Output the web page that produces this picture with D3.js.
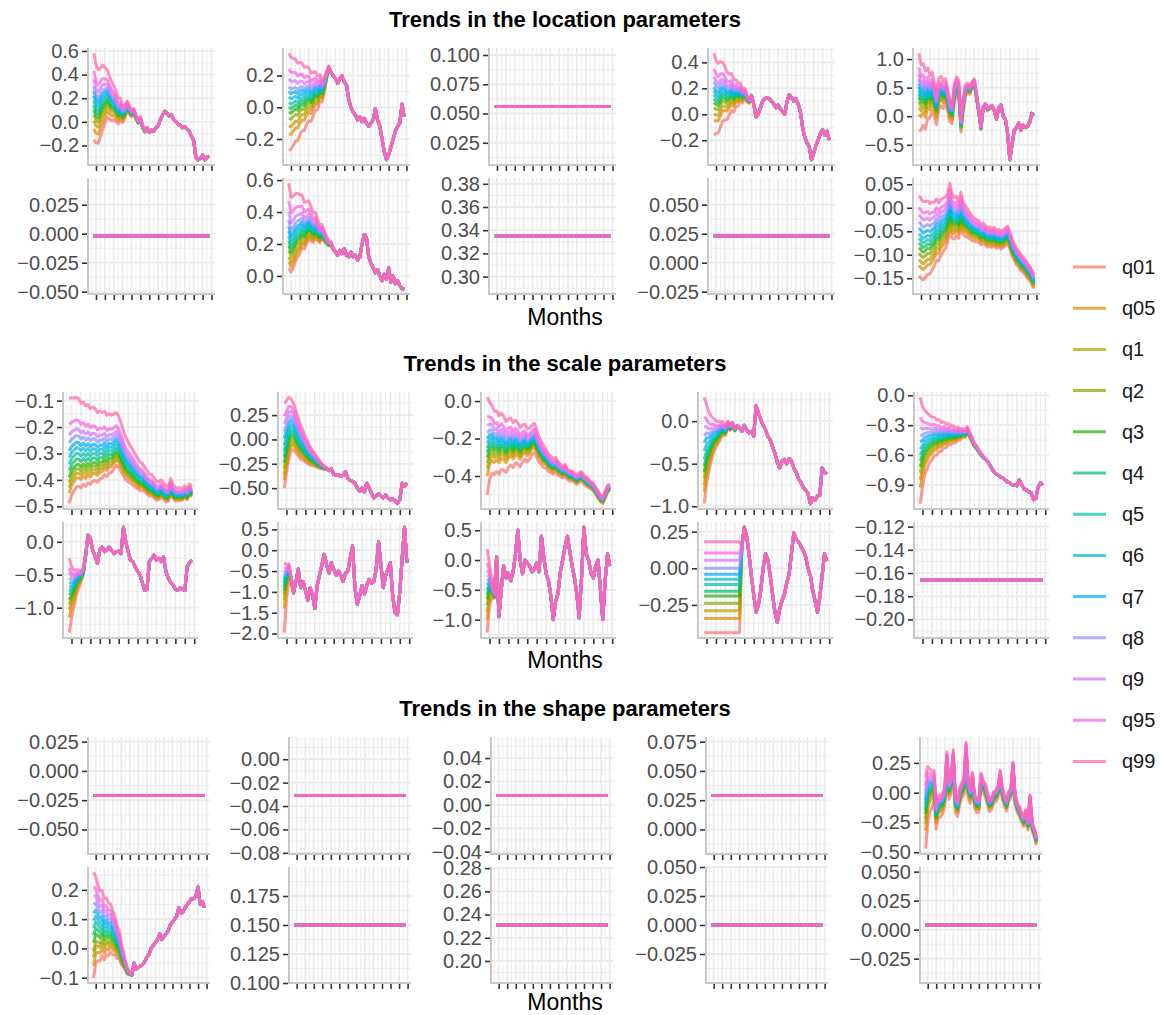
<!DOCTYPE html>
<html>
<head>
<meta charset="utf-8">
<script src="https://cdn.jsdelivr.net/npm/d3@7"></script>
<style>
  body { margin: 0; background: #ffffff; }
  svg text { font-family: "Liberation Sans", Arial, Helvetica, sans-serif; }
</style>
</head>
<body>
<svg id="chart" width="1161" height="1015"></svg>
<script>
// ---------------------------------------------------------------------------
// Quantile levels and their colours
// ---------------------------------------------------------------------------
const quantiles = ["q01", "q05", "q1", "q2", "q3", "q4", "q5", "q6", "q7", "q8", "q9", "q95", "q99"];
const quantileColors = ["#F8766D", "#E18A00", "#BE9C00", "#8CAB00", "#24B700", "#00BE70", "#00C1AB",
                        "#00BBDA", "#00ACFC", "#8B93FF", "#D575FE", "#F962DD", "#FF65AC"];

const sectionTitles = ["Trends in the location parameters", "Trends in the scale parameters", "Trends in the shape parameters"];
const axisTitle = "Months";

const monthStep = 3;        // months between stored observations
const lastMonth = 156;      // last observed month
const monthTicks = [3, 15, 27, 39, 51, 63, 75, 87, 99, 111, 123, 135, 147, 159];

// Each moving panel: common trajectory (path), per-quantile offsets at the
// widest spread (fan, ordered q01..q99) and the spread weight per observation
// (spread; observations past its end have coinciding quantile curves).
// Flat panels: a single level shared by all quantiles.

// ---------------------------- location -------------------------------------
const locA_path = [0.18, 0.12, 0.10, 0.14, 0.18, 0.20, 0.22, 0.19, 0.16, 0.15,
  0.12, 0.08, 0.10, 0.06, 0.08, 0.13, 0.10, 0.07, 0.09, 0.04,
  0.00, 0.03, -0.04, -0.08, -0.05, -0.09, -0.07, -0.08, -0.05, -0.03,
  0.02, 0.06, 0.09, 0.07, 0.05, 0.06, 0.02, 0.00, -0.02, -0.03,
  -0.05, -0.04, -0.06, -0.08, -0.12, -0.16, -0.30, -0.32, -0.31, -0.28,
  -0.32, -0.30, -0.29];
const locA_fan = [-0.33, -0.24, -0.17, -0.12, -0.08, -0.04, 0, 0.04, 0.08, 0.12, 0.18, 0.25, 0.40];
const locA_spread = [1, 0.9, 0.85, 0.8, 0.75, 0.65, 0.55, 0.5, 0.45, 0.4, 0.35, 0.3, 0.25, 0.2, 0.15, 0.12, 0.1, 0.08, 0.06, 0.05, 0.04, 0.03, 0.03, 0.02];
const locA_ticks = [-0.2, 0, 0.2, 0.4, 0.6];

const locB_path = [0.03, 0.02, 0.03, 0.04, 0.03, 0.05, 0.06, 0.05, 0.07, 0.08,
  0.06, 0.08, 0.10, 0.09, 0.12, 0.10, 0.14, 0.20, 0.25, 0.22,
  0.20, 0.18, 0.15, 0.18, 0.20, 0.16, 0.14, 0.05, 0.00, -0.03,
  -0.05, -0.08, -0.06, -0.09, -0.07, -0.10, -0.12, -0.10, -0.08, -0.01,
  -0.08, -0.12, -0.20, -0.28, -0.33, -0.30, -0.25, -0.20, -0.15, -0.12,
  -0.10, 0.02, -0.06];
const locB_fan = [-0.30, -0.20, -0.15, -0.10, -0.06, -0.03, 0, 0.035, 0.07, 0.10, 0.15, 0.21, 0.31];
const locB_spread = [1, 0.95, 0.9, 0.85, 0.8, 0.75, 0.7, 0.65, 0.6, 0.55, 0.5, 0.45, 0.4, 0.35, 0.28, 0.22, 0.15, 0.08, 0.03];
const locB_ticks = [-0.2, 0, 0.2];

const locC_level = 0.056;
const locC_ticks = [0.025, 0.05, 0.075, 0.1];

const locD_path = [0.15, 0.13, 0.12, 0.15, 0.17, 0.16, 0.14, 0.15, 0.17, 0.14,
  0.16, 0.15, 0.17, 0.14, 0.16, 0.12, 0.10, 0.14, 0.08, -0.02,
  0.00, 0.05, 0.10, 0.12, 0.13, 0.12, 0.10, 0.08, 0.05, 0.07,
  0.04, 0.02, 0.00, 0.10, 0.15, 0.13, 0.10, 0.12, 0.08, 0.02,
  -0.10, -0.18, -0.22, -0.25, -0.35, -0.30, -0.24, -0.20, -0.15, -0.12,
  -0.16, -0.13, -0.20];
const locD_fan = [-0.31, -0.20, -0.15, -0.10, -0.06, -0.03, 0, 0.03, 0.06, 0.10, 0.14, 0.20, 0.32];
const locD_spread = [1, 0.9, 0.85, 0.8, 0.72, 0.65, 0.58, 0.5, 0.45, 0.4, 0.33, 0.28, 0.22, 0.17, 0.12, 0.08, 0.05, 0.03];
const locD_ticks = [-0.2, 0, 0.2, 0.4];

const locE_path = [0.45, 0.35, 0.40, 0.30, 0.42, 0.35, 0.45, 0.30, 0.15, 0.40,
  0.45, 0.38, 0.45, 0.30, 0.10, 0.05, 0.40, 0.55, 0.50, -0.15,
  0.20, 0.45, 0.50, 0.45, 0.55, 0.60, 0.35, 0.10, -0.20, 0.15,
  0.20, 0.12, 0.15, 0.18, 0.10, -0.05, 0.15, 0.20, 0.00, -0.05,
  -0.30, -0.76, -0.50, -0.25, -0.20, -0.12, -0.25, -0.15, -0.20, -0.18,
  -0.10, 0.05, 0.02];
const locE_fan = [-0.70, -0.42, -0.30, -0.20, -0.12, -0.06, 0, 0.06, 0.12, 0.20, 0.28, 0.40, 0.65];
const locE_spread = [1, 0.85, 0.8, 0.75, 0.65, 0.55, 0.5, 0.45, 0.42, 0.4, 0.38, 0.35, 0.32, 0.3, 0.28, 0.26, 0.24, 0.22,
  0.2, 0.18, 0.16, 0.14, 0.12, 0.1, 0.09, 0.08, 0.07, 0.06, 0.05, 0.04, 0.04, 0.03, 0.03, 0.02, 0.02];
const locE_ticks = [-0.5, 0, 0.5, 1.0];

const locF_level = -0.002;
const locF_ticks = [-0.05, -0.025, 0, 0.025];

const locG_path = [0.25, 0.20, 0.22, 0.25, 0.27, 0.28, 0.30, 0.28, 0.30, 0.32,
  0.30, 0.28, 0.30, 0.27, 0.25, 0.27, 0.24, 0.22, 0.20, 0.20,
  0.17, 0.15, 0.13, 0.16, 0.14, 0.17, 0.13, 0.12, 0.15, 0.12,
  0.13, 0.10, 0.12, 0.20, 0.26, 0.24, 0.12, 0.08, 0.05, 0.02,
  0.04, 0.00, -0.03, 0.01, -0.02, 0.05, -0.04, 0.00, -0.05, -0.03,
  -0.06, -0.08, -0.08];
const locG_fan = [-0.20, -0.16, -0.13, -0.09, -0.06, -0.03, 0, 0.03, 0.06, 0.10, 0.15, 0.22, 0.33];
const locG_spread = [1, 0.88, 0.85, 0.8, 0.75, 0.7, 0.62, 0.55, 0.5, 0.45, 0.4, 0.35, 0.3, 0.25, 0.2, 0.16, 0.12, 0.09, 0.06, 0.04, 0.02];
const locG_ticks = [0, 0.2, 0.4, 0.6];

const locH_level = 0.335;
const locH_ticks = [0.30, 0.32, 0.34, 0.36, 0.38];

const locI_level = 0.023;
const locI_ticks = [-0.025, 0, 0.025, 0.05];

const locJ_path = [-0.065, -0.070, -0.075, -0.072, -0.068, -0.070, -0.065, -0.060, -0.050, -0.055,
  -0.045, -0.040, -0.035, -0.025, 0.000, -0.020, -0.025, -0.020, -0.028, -0.005,
  -0.025, -0.030, -0.035, -0.040, -0.045, -0.048, -0.050, -0.052, -0.058, -0.055,
  -0.060, -0.065, -0.062, -0.066, -0.062, -0.068, -0.065, -0.070, -0.067, -0.063,
  -0.058, -0.070, -0.085, -0.095, -0.105, -0.110, -0.118, -0.122, -0.128, -0.135,
  -0.140, -0.150, -0.158];
const locJ_fan = [-0.080, -0.058, -0.045, -0.032, -0.020, -0.010, 0, 0.010, 0.022, 0.035, 0.050, 0.065, 0.090];
const locJ_spread = [1, 1, 0.98, 0.95, 0.92, 0.88, 0.85, 0.80, 0.77, 0.73,
  0.70, 0.67, 0.64, 0.61, 0.58, 0.55, 0.52, 0.49, 0.46, 0.43,
  0.40, 0.38, 0.35, 0.33, 0.31, 0.29, 0.28, 0.27, 0.26, 0.25,
  0.25, 0.24, 0.24, 0.23, 0.23, 0.23, 0.22, 0.22, 0.22, 0.22,
  0.21, 0.21, 0.21, 0.20, 0.20, 0.20, 0.20, 0.19, 0.19, 0.19,
  0.18, 0.18, 0.18];
const locJ_ticks = [-0.15, -0.10, -0.05, 0, 0.05];

// ------------------------------ scale --------------------------------------
const sclA_path = [-0.34, -0.32, -0.31, -0.30, -0.30, -0.31, -0.30, -0.31, -0.30, -0.31,
  -0.30, -0.30, -0.31, -0.30, -0.30, -0.29, -0.30, -0.29, -0.29, -0.28,
  -0.27, -0.28, -0.30, -0.32, -0.34, -0.35, -0.36, -0.37, -0.38, -0.39,
  -0.40, -0.40, -0.41, -0.42, -0.43, -0.43, -0.44, -0.45, -0.45, -0.44,
  -0.45, -0.46, -0.46, -0.43, -0.45, -0.46, -0.46, -0.46, -0.46, -0.45,
  -0.46, -0.44, -0.45];
const sclA_fan = [-0.15, -0.11, -0.09, -0.07, -0.05, -0.025, 0, 0.025, 0.05, 0.08, 0.11, 0.15, 0.25];
const sclA_spread = [1, 0.92, 0.88, 0.85, 0.83, 0.80, 0.78, 0.76, 0.74, 0.72,
  0.70, 0.68, 0.66, 0.64, 0.62, 0.60, 0.58, 0.56, 0.54, 0.52,
  0.50, 0.48, 0.46, 0.43, 0.40, 0.38, 0.35, 0.33, 0.31, 0.29,
  0.27, 0.25, 0.23, 0.22, 0.21, 0.20, 0.19, 0.18, 0.17, 0.16,
  0.15, 0.15, 0.14, 0.14, 0.13, 0.13, 0.12, 0.12, 0.11, 0.11,
  0.10, 0.10, 0.10];
const sclA_ticks = [-0.5, -0.4, -0.3, -0.2, -0.1];

const sclB_path = [-0.12, -0.02, 0.08, 0.12, 0.10, 0.05, 0.00, -0.05, -0.08, -0.12,
  -0.15, -0.18, -0.20, -0.22, -0.24, -0.26, -0.28, -0.29, -0.30, -0.32,
  -0.30, -0.36, -0.37, -0.36, -0.38, -0.37, -0.33, -0.40, -0.42, -0.43,
  -0.45, -0.50, -0.53, -0.50, -0.54, -0.45, -0.50, -0.55, -0.60, -0.58,
  -0.56, -0.58, -0.60, -0.57, -0.60, -0.62, -0.61, -0.63, -0.66, -0.62,
  -0.45, -0.48, -0.45];
const sclB_fan = [-0.38, -0.30, -0.24, -0.18, -0.12, -0.06, 0, 0.06, 0.13, 0.20, 0.28, 0.36, 0.49];
const sclB_spread = [1, 0.85, 0.72, 0.6, 0.55, 0.5, 0.45, 0.4, 0.35, 0.3, 0.26, 0.22, 0.18, 0.15, 0.12, 0.09, 0.06, 0.04, 0.02];
const sclB_ticks = [-0.5, -0.25, 0, 0.25];

const sclC_path = [-0.25, -0.22, -0.21, -0.23, -0.22, -0.24, -0.22, -0.23, -0.25, -0.23,
  -0.22, -0.24, -0.22, -0.23, -0.25, -0.23, -0.22, -0.24, -0.23, -0.21,
  -0.20, -0.23, -0.26, -0.28, -0.30, -0.31, -0.33, -0.34, -0.35, -0.34,
  -0.36, -0.37, -0.38, -0.37, -0.39, -0.40, -0.40, -0.41, -0.42, -0.41,
  -0.40, -0.42, -0.43, -0.44, -0.45, -0.46, -0.48, -0.50, -0.52, -0.53,
  -0.50, -0.47, -0.46];
const sclC_fan = [-0.25, -0.15, -0.11, -0.08, -0.05, -0.025, 0, 0.025, 0.05, 0.08, 0.12, 0.17, 0.27];
const sclC_spread = [1, 0.8, 0.7, 0.65, 0.62, 0.6, 0.58, 0.55, 0.52, 0.5,
  0.48, 0.46, 0.44, 0.42, 0.4, 0.38, 0.36, 0.34, 0.32, 0.3,
  0.3, 0.28, 0.26, 0.24, 0.22, 0.2, 0.18, 0.17, 0.16, 0.15,
  0.14, 0.13, 0.12, 0.12, 0.11, 0.11, 0.1, 0.1, 0.1, 0.1,
  0.09, 0.09, 0.09, 0.09, 0.08, 0.08, 0.08, 0.08, 0.07, 0.07,
  0.07, 0.07, 0.07];
const sclC_ticks = [-0.4, -0.2, 0];

const sclD_path = [-0.45, -0.35, -0.30, -0.25, -0.20, -0.18, -0.15, -0.12, -0.10, -0.12,
  -0.05, -0.08, -0.04, -0.10, -0.06, -0.08, -0.12, -0.05, -0.10, -0.14,
  -0.12, -0.18, 0.18, 0.10, 0.02, -0.05, -0.10, -0.18, -0.22, -0.30,
  -0.38, -0.48, -0.55, -0.47, -0.45, -0.50, -0.44, -0.47, -0.55, -0.60,
  -0.68, -0.72, -0.78, -0.81, -0.85, -0.97, -0.90, -0.93, -0.88, -0.87,
  -0.55, -0.60, -0.62];
const sclD_fan = [-0.52, -0.38, -0.30, -0.22, -0.15, -0.08, 0, 0.10, 0.20, 0.28, 0.38, 0.50, 0.73];
const sclD_spread = [1, 0.75, 0.55, 0.42, 0.32, 0.25, 0.2, 0.16, 0.12, 0.09, 0.07, 0.05, 0.04, 0.03, 0.02, 0.01];
const sclD_ticks = [-1.0, -0.5, 0];

const sclE_path = [-0.60, -0.55, -0.50, -0.48, -0.46, -0.45, -0.43, -0.44, -0.42, -0.43,
  -0.41, -0.42, -0.40, -0.41, -0.40, -0.41, -0.39, -0.40, -0.38, -0.39,
  -0.35, -0.40, -0.45, -0.50, -0.53, -0.57, -0.60, -0.63, -0.65, -0.68,
  -0.72, -0.76, -0.79, -0.80, -0.82, -0.83, -0.85, -0.87, -0.88, -0.90,
  -0.90, -0.91, -0.85, -0.90, -0.94, -0.95, -0.97, -0.98, -1.05, -1.04,
  -0.92, -0.88, -0.90];
const sclE_fan = [-0.49, -0.33, -0.25, -0.18, -0.12, -0.06, 0, 0.06, 0.13, 0.20, 0.28, 0.38, 0.58];
const sclE_spread = [1, 0.75, 0.6, 0.52, 0.45, 0.4, 0.36, 0.33, 0.3, 0.27, 0.25, 0.22, 0.2, 0.18, 0.16, 0.14, 0.12, 0.1,
  0.08, 0.07, 0.06, 0.05, 0.04, 0.03, 0.03, 0.02, 0.02, 0.01];
const sclE_ticks = [-0.9, -0.6, -0.3, 0];

const sclF_path = [-0.75, -0.72, -0.68, -0.60, -0.55, -0.52, -0.45, -0.20, 0.10, 0.05,
  -0.13, -0.22, -0.33, -0.12, -0.08, -0.15, -0.12, -0.08, -0.13, -0.18,
  -0.15, -0.14, -0.18, 0.22, 0.00, -0.15, -0.28, -0.30, -0.38, -0.45,
  -0.50, -0.62, -0.74, -0.72, -0.30, -0.25, -0.20, -0.28, -0.25, -0.30,
  -0.23, -0.45, -0.55, -0.62, -0.65, -0.72, -0.74, -0.70, -0.72, -0.74,
  -0.38, -0.32, -0.28];
const sclF_fan = [-0.63, -0.40, -0.28, -0.20, -0.13, -0.06, 0, 0.06, 0.13, 0.20, 0.28, 0.35, 0.50];
const sclF_spread = [1, 0.7, 0.5, 0.35, 0.25, 0.15, 0.08, 0.03];
const sclF_ticks = [-1.0, -0.5, 0];

const sclG_path = [-0.80, -0.60, -0.45, -0.70, -1.00, -0.75, -0.45, -0.90, -0.75, -0.95,
  -1.20, -0.90, -1.05, -1.40, -0.85, -0.60, -0.35, -0.10, -0.35, -0.55,
  -0.30, -0.45, -0.60, -0.50, -0.60, -0.75, -0.55, -0.50, -0.20, 0.10,
  -0.90, -1.30, -1.10, -0.85, -1.05, -0.85, -0.70, -0.80, -0.75, -0.45,
  0.20, -0.35, -0.90, -0.60, -0.45, -0.30, -1.10, -1.50, -1.55, -1.00,
  -0.20, 0.55, -0.30];
const sclG_fan = [-1.18, -0.60, -0.40, -0.28, -0.17, -0.08, 0, 0.06, 0.12, 0.18, 0.25, 0.35, 0.50];
const sclG_spread = [1, 0.5, 0.25, 0.1, 0.04];
const sclG_ticks = [-2.0, -1.5, -1.0, -0.5, 0, 0.5];

const sclH_path = [-0.50, -0.40, -0.50, -0.60, 0.05, -0.95, -0.50, -0.10, -0.30, -0.22,
  -0.35, -0.20, 0.10, 0.50, 0.00, -0.23, 0.00, -0.05, -0.10, -0.20,
  -0.15, -0.05, -0.20, 0.40, 0.05, -0.23, -0.35, -0.60, -1.00, -0.70,
  -0.57, -0.20, 0.00, 0.22, 0.40, 0.15, -0.10, -0.30, -0.57, -0.97,
  -0.30, 0.55, 0.10, 0.00, -0.22, -0.30, -0.10, 0.00, -0.50, -1.00,
  -0.34, 0.10, -0.10];
const sclH_fan = [-0.72, -0.50, -0.38, -0.26, -0.16, -0.08, 0, 0.08, 0.16, 0.24, 0.33, 0.45, 0.68];
const sclH_spread = [1, 0.5, 0.2, 0.06];
const sclH_ticks = [-1.0, -0.5, 0, 0.5];

const sclI_path = [0, 0, 0, 0, 0, 0, 0, 0, 0, 0,
  0, 0, 0, 0, 0, 0, 0.15, 0.28, 0.22, 0.10,
  -0.05, -0.18, -0.30, -0.25, -0.15, 0.00, 0.10, 0.06, -0.05, -0.18,
  -0.30, -0.37, -0.28, -0.22, -0.18, -0.10, -0.04, 0.10, 0.24, 0.20,
  0.18, 0.15, 0.12, 0.08, 0.00, -0.05, -0.15, -0.22, -0.30, -0.20,
  -0.05, 0.10, 0.05];
const sclI_fan = [-0.44, -0.343, -0.29, -0.238, -0.19, -0.157, -0.11, -0.075, -0.04, 0.0, 0.054, 0.105, 0.182];
const sclI_spread = [1, 1, 1, 1, 1, 1, 1, 1, 1, 1, 1, 1, 1, 1, 1, 1];
const sclI_ticks = [-0.25, 0, 0.25];

const sclJ_level = -0.166;
const sclJ_ticks = [-0.20, -0.18, -0.16, -0.14, -0.12];

// ------------------------------ shape --------------------------------------
const shpA_level = -0.021;
const shpA_ticks = [-0.05, -0.025, 0, 0.025];

const shpB_level = -0.031;
const shpB_ticks = [-0.08, -0.06, -0.04, -0.02, 0];

const shpC_level = 0.008;
const shpC_ticks = [-0.04, -0.02, 0, 0.02, 0.04];

const shpD_level = 0.029;
const shpD_ticks = [0, 0.025, 0.05, 0.075];

const shpE_path = [-0.12, 0.02, 0.05, 0.05, 0.08, -0.18, -0.10, -0.10, -0.08, -0.02,
  0.28, 0.03, 0.08, 0.30, -0.08, -0.12, -0.02, 0.03, 0.06, 0.37,
  0.03, -0.02, 0.12, -0.06, -0.10, -0.10, 0.12, 0.06, 0.03, -0.04,
  -0.10, -0.08, -0.03, -0.02, 0.02, 0.15, 0.00, -0.06, -0.10, -0.02,
  0.00, 0.22, -0.05, -0.12, -0.15, -0.20, -0.24, -0.17, -0.27, -0.05,
  -0.28, -0.33, -0.40];
const shpE_fan = [-0.35, -0.20, -0.14, -0.10, -0.06, -0.03, 0, 0.03, 0.06, 0.09, 0.13, 0.18, 0.25];
const shpE_spread = [1, 0.80, 0.60, 0.50, 0.42, 0.36, 0.32, 0.30, 0.28, 0.26,
  0.25, 0.25, 0.24, 0.24, 0.23, 0.23, 0.22, 0.22, 0.22, 0.21,
  0.21, 0.20, 0.20, 0.20, 0.19, 0.19, 0.18, 0.18, 0.18, 0.17,
  0.17, 0.17, 0.16, 0.16, 0.16, 0.15, 0.15, 0.15, 0.15, 0.14,
  0.14, 0.14, 0.14, 0.13, 0.13, 0.13, 0.13, 0.12, 0.12, 0.12,
  0.12, 0.12, 0.12];
const shpE_ticks = [-0.5, -0.25, 0, 0.25];

const shpF_path = [0.07, 0.09, 0.08, 0.07, 0.08, 0.06, 0.07, 0.06, 0.065, 0.05,
  0.04, 0.02, 0.01, -0.02, -0.04, -0.06, -0.08, -0.085, -0.09, -0.05,
  -0.07, -0.065, -0.06, -0.055, -0.045, -0.03, -0.02, 0.00, 0.01, 0.02,
  0.03, 0.05, 0.03, 0.04, 0.05, 0.06, 0.08, 0.09, 0.10, 0.11,
  0.14, 0.12, 0.125, 0.14, 0.15, 0.16, 0.17, 0.17, 0.18, 0.21,
  0.15, 0.16, 0.14];
const shpF_fan = [-0.17, -0.13, -0.10, -0.08, -0.05, -0.025, 0, 0.025, 0.05, 0.08, 0.11, 0.14, 0.19];
const shpF_spread = [1, 0.82, 0.72, 0.66, 0.62, 0.58, 0.54, 0.5, 0.46, 0.42, 0.37, 0.32, 0.26, 0.2, 0.14, 0.09, 0.05, 0.03, 0.01];
const shpF_ticks = [-0.1, 0, 0.1, 0.2];

const shpG_level = 0.150;
const shpG_ticks = [0.1, 0.125, 0.15, 0.175];

const shpH_level = 0.231;
const shpH_ticks = [0.20, 0.22, 0.24, 0.26, 0.28];

const shpI_level = 0.000;
const shpI_ticks = [-0.025, 0, 0.025, 0.05];

const shpJ_level = 0.004;
const shpJ_ticks = [-0.025, 0, 0.025, 0.05];

// ---------------------------------------------------------------------------
// Series builders
// ---------------------------------------------------------------------------
function quantileSeries(path, fan, spread) {
  return fan.map(off => path.map((v, i) => ({ month: i * monthStep, value: v + off * (spread[i] || 0) })));
}
function flatSeries(level) {
  return quantiles.map(() => [{ month: 0, value: level }, { month: lastMonth, value: level }]);
}

const sectionPanels = [
  [
    [quantileSeries(locA_path, locA_fan, locA_spread), locA_ticks],
    [quantileSeries(locB_path, locB_fan, locB_spread), locB_ticks],
    [flatSeries(locC_level), locC_ticks],
    [quantileSeries(locD_path, locD_fan, locD_spread), locD_ticks],
    [quantileSeries(locE_path, locE_fan, locE_spread), locE_ticks],
    [flatSeries(locF_level), locF_ticks],
    [quantileSeries(locG_path, locG_fan, locG_spread), locG_ticks],
    [flatSeries(locH_level), locH_ticks],
    [flatSeries(locI_level), locI_ticks],
    [quantileSeries(locJ_path, locJ_fan, locJ_spread), locJ_ticks]
  ],
  [
    [quantileSeries(sclA_path, sclA_fan, sclA_spread), sclA_ticks],
    [quantileSeries(sclB_path, sclB_fan, sclB_spread), sclB_ticks],
    [quantileSeries(sclC_path, sclC_fan, sclC_spread), sclC_ticks],
    [quantileSeries(sclD_path, sclD_fan, sclD_spread), sclD_ticks],
    [quantileSeries(sclE_path, sclE_fan, sclE_spread), sclE_ticks],
    [quantileSeries(sclF_path, sclF_fan, sclF_spread), sclF_ticks],
    [quantileSeries(sclG_path, sclG_fan, sclG_spread), sclG_ticks],
    [quantileSeries(sclH_path, sclH_fan, sclH_spread), sclH_ticks],
    [quantileSeries(sclI_path, sclI_fan, sclI_spread), sclI_ticks],
    [flatSeries(sclJ_level), sclJ_ticks]
  ],
  [
    [flatSeries(shpA_level), shpA_ticks],
    [flatSeries(shpB_level), shpB_ticks],
    [flatSeries(shpC_level), shpC_ticks],
    [flatSeries(shpD_level), shpD_ticks],
    [quantileSeries(shpE_path, shpE_fan, shpE_spread), shpE_ticks],
    [quantileSeries(shpF_path, shpF_fan, shpF_spread), shpF_ticks],
    [flatSeries(shpG_level), shpG_ticks],
    [flatSeries(shpH_level), shpH_ticks],
    [flatSeries(shpI_level), shpI_ticks],
    [flatSeries(shpJ_level), shpJ_ticks]
  ]
];

// ---------------------------------------------------------------------------
// Layout
// ---------------------------------------------------------------------------
const sectionTop = [0, 344, 689];
const rowBand = [[48, 165], [178, 294]];
const columnLeft = [[88, 283, 489, 708, 913], [63, 278, 481, 698, 914], [88, 289, 491, 706, 920]];
const panelWidth = [127, 135, 122];
const titleCenter = 565;
const axisTitleY = [325, 668, 1010];

const tickFont = 20, titleFont = 22, axisTitleFont = 23, legendFont = 20;
const gridColor = "#EBEBEB", axisLineColor = "#C8C8C8", tickColor = "#333333", tickTextColor = "#4D4D4D";
const lineWidth = 3, lineOpacity = 0.72;

const svg = d3.select("#chart");
svg.append("rect").attr("width", 1161).attr("height", 1015).attr("fill", "#ffffff");

// number of decimals needed to print every break of an axis
function breakDecimals(ticks) {
  return d3.max(ticks, t => {
    const s = String(+t.toFixed(10));
    const i = s.indexOf(".");
    return i < 0 ? 0 : s.length - i - 1;
  });
}

function drawPanel(g, series, ticks, x0, w, y0, y1) {
  const x = d3.scaleLinear().domain([-0.05 * lastMonth, 1.05 * lastMonth]).range([x0, x0 + w]);
  const values = series.flat().map(d => d.value);
  const lo = d3.min(values), hi = d3.max(values);
  const pad = hi > lo ? 0.05 * (hi - lo) : 0.05;
  const y = d3.scaleLinear().domain([lo - pad, hi + pad]).range([y1, y0]);
  const [yd0, yd1] = y.domain();
  const [xd0, xd1] = x.domain();

  const step = Math.abs(ticks[1] - ticks[0]);
  const yMinor = [ticks[0] - step / 2].concat(ticks.map(t => t + step / 2)).filter(v => v >= yd0 && v <= yd1);
  const xStep = monthTicks[1] - monthTicks[0];
  const xMinor = [monthTicks[0] - xStep / 2].concat(monthTicks.map(t => t + xStep / 2)).filter(v => v >= xd0 && v <= xd1);
  const yMajor = ticks.filter(v => v >= yd0 && v <= yd1);

  const grid = g.append("g");
  grid.selectAll(null).data(yMinor).join("line")
    .attr("x1", x0).attr("x2", x0 + w).attr("y1", d => y(d)).attr("y2", d => y(d))
    .attr("stroke", gridColor).attr("stroke-width", 0.9);
  grid.selectAll(null).data(xMinor).join("line")
    .attr("x1", d => x(d)).attr("x2", d => x(d)).attr("y1", y0).attr("y2", y1)
    .attr("stroke", gridColor).attr("stroke-width", 0.9);
  grid.selectAll(null).data(yMajor).join("line")
    .attr("x1", x0).attr("x2", x0 + w).attr("y1", d => y(d)).attr("y2", d => y(d))
    .attr("stroke", gridColor).attr("stroke-width", 1.8);
  grid.selectAll(null).data(monthTicks).join("line")
    .attr("x1", d => x(d)).attr("x2", d => x(d)).attr("y1", y0).attr("y2", y1)
    .attr("stroke", gridColor).attr("stroke-width", 1.8);

  const line = d3.line().x(d => x(d.month)).y(d => y(d.value));
  g.append("g").selectAll("path").data(series).join("path")
    .attr("d", line)
    .attr("fill", "none")
    .attr("stroke", (d, i) => quantileColors[i])
    .attr("stroke-opacity", lineOpacity)
    .attr("stroke-width", lineWidth)
    .attr("stroke-linejoin", "round")
    .attr("stroke-linecap", "butt");

  // axis lines
  g.append("line").attr("x1", x0).attr("x2", x0).attr("y1", y0).attr("y2", y1 + 1)
    .attr("stroke", axisLineColor).attr("stroke-width", 2);
  g.append("line").attr("x1", x0 - 1).attr("x2", x0 + w).attr("y1", y1).attr("y2", y1)
    .attr("stroke", axisLineColor).attr("stroke-width", 2);

  const fmt = d3.format("." + breakDecimals(ticks) + "f");
  const yAxis = g.append("g").attr("transform", `translate(${x0 - 1},0)`)
    .call(d3.axisLeft(y).tickValues(yMajor).tickFormat(fmt).tickSize(5).tickPadding(3));
  const xAxis = g.append("g").attr("transform", `translate(0,${y1 + 1})`)
    .call(d3.axisBottom(x).tickValues(monthTicks).tickFormat("").tickSize(5));
  [yAxis, xAxis].forEach(a => {
    a.select(".domain").remove();
    a.selectAll(".tick line").attr("stroke", tickColor).attr("stroke-width", 1.6);
  });
  yAxis.selectAll(".tick text")
    .attr("fill", tickTextColor)
    .attr("font-size", tickFont);
}

sectionPanels.forEach((panels, s) => {
  const g = svg.append("g").attr("transform", `translate(0,${sectionTop[s]})`);
  g.append("text")
    .attr("x", titleCenter).attr("y", 27)
    .attr("text-anchor", "middle")
    .attr("font-weight", "bold")
    .attr("font-size", titleFont)
    .attr("fill", "#000000")
    .text(sectionTitles[s]);
  panels.forEach(([series, ticks], k) => {
    const row = Math.floor(k / 5), col = k % 5;
    drawPanel(g, series, ticks, columnLeft[s][col], panelWidth[s], rowBand[row][0], rowBand[row][1]);
  });
  svg.append("text")
    .attr("x", titleCenter).attr("y", axisTitleY[s])
    .attr("text-anchor", "middle")
    .attr("font-size", axisTitleFont)
    .attr("fill", "#000000")
    .text(axisTitle);
});

// legend
const legendTop = 267, legendGap = 41.2;
const legend = svg.append("g");
quantiles.forEach((q, i) => {
  const cy = legendTop + i * legendGap;
  legend.append("line")
    .attr("x1", 1073).attr("x2", 1106).attr("y1", cy).attr("y2", cy)
    .attr("stroke", quantileColors[i]).attr("stroke-opacity", lineOpacity).attr("stroke-width", 3);
  legend.append("text")
    .attr("x", 1122).attr("y", cy).attr("dy", "0.35em")
    .attr("font-size", legendFont)
    .attr("fill", "#1A1A1A")
    .text(q);
});
</script>
</body>
</html>
